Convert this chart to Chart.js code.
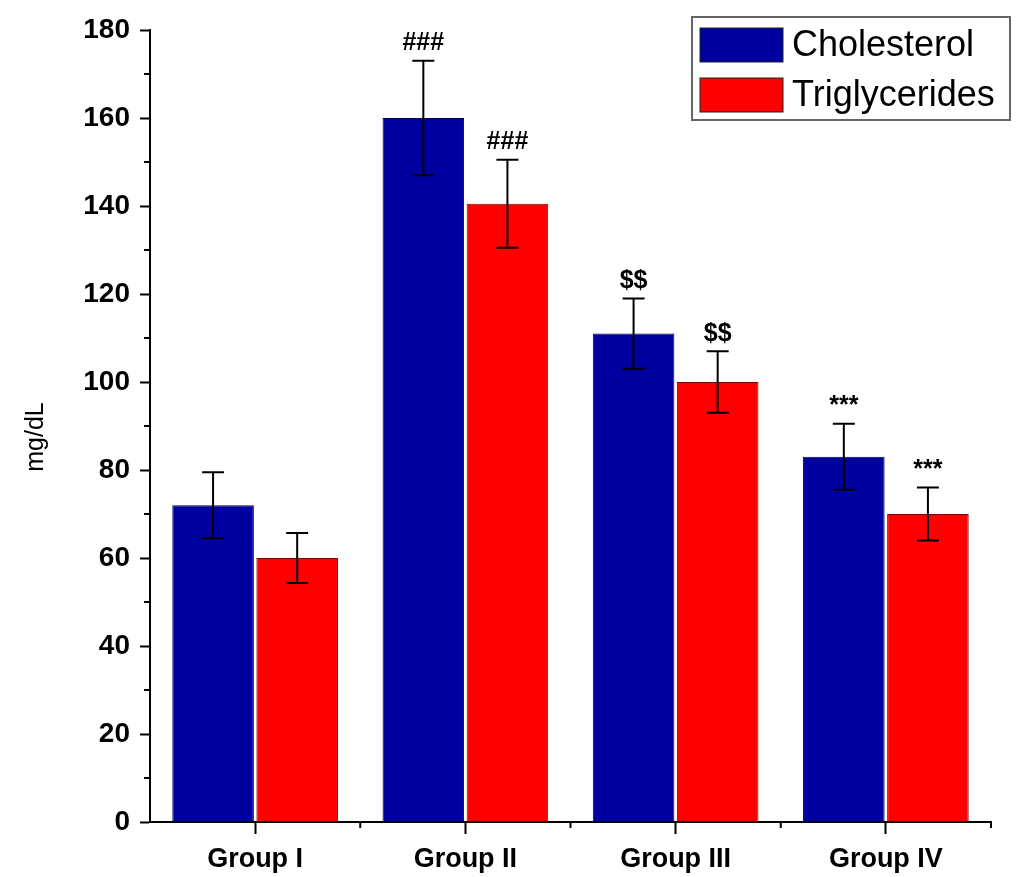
<!DOCTYPE html>
<html>
<head>
<meta charset="utf-8">
<script src="https://cdn.jsdelivr.net/npm/chart.js@4"></script>
<style>
  body { margin: 0; background: #fff; }
</style>
</head>
<body>
<canvas id="chart" width="1019" height="877"></canvas>
<script>
// Data
const groups = ["Group I", "Group II", "Group III", "Group IV"];
const cholesterol = [72, 160, 111, 83];
const cholesterolErr = [7.5, 13, 8, 7.5];
const triglycerides = [60, 140.5, 100, 70];
const triglyceridesErr = [5.7, 10, 7, 6];
const cholesterolMarks = ["", "###", "$$", "***"];
const triglycerideMarks = ["", "###", "$$", "***"];

const FONT = "'Liberation Sans', Arial, sans-serif";
const BLUE = "#0000a0";
const RED = "#ff0000";

// Error bars + significance marks
const errorBarPlugin = {
  id: "errorBars",
  afterDatasetsDraw(chart) {
    const { ctx, scales } = chart;
    const errs = [cholesterolErr, triglyceridesErr];
    const marks = [cholesterolMarks, triglycerideMarks];
    ctx.save();
    ctx.strokeStyle = "#000";
    ctx.lineWidth = 2;
    chart.data.datasets.forEach((ds, i) => {
      const meta = chart.getDatasetMeta(i);
      meta.data.forEach((bar, j) => {
        const v = ds.data[j];
        const e = errs[i][j];
        const yTop = scales.y.getPixelForValue(v + e);
        const yBot = scales.y.getPixelForValue(v - e);
        const x = bar.x;
        ctx.beginPath();
        ctx.moveTo(x, yTop);
        ctx.lineTo(x, yBot);
        ctx.moveTo(x - 11, yTop);
        ctx.lineTo(x + 11, yTop);
        ctx.moveTo(x - 11, yBot);
        ctx.lineTo(x + 11, yBot);
        ctx.stroke();
        if (marks[i][j]) {
          ctx.fillStyle = "#000";
          ctx.font = "bold 25px " + FONT;
          ctx.textAlign = "center";
          ctx.textBaseline = "bottom";
          ctx.fillText(marks[i][j], x, yTop - 5);
        }
      });
    });
    ctx.restore();
  },
};

// Minor ticks on both axes
const minorTickPlugin = {
  id: "minorTicks",
  afterDraw(chart) {
    const { ctx, scales, chartArea } = chart;
    ctx.save();
    ctx.strokeStyle = "#000";
    ctx.lineWidth = 2;
    ctx.beginPath();
    for (let v = 10; v < 180; v += 20) {
      const y = scales.y.getPixelForValue(v);
      ctx.moveTo(chartArea.left - 6, y);
      ctx.lineTo(chartArea.left, y);
    }
    const step = (chartArea.right - chartArea.left) / groups.length;
    for (let k = 1; k <= groups.length; k++) {
      const x = chartArea.left + step * k;
      ctx.moveTo(x, chartArea.bottom);
      ctx.lineTo(x, chartArea.bottom + 6);
    }
    ctx.stroke();

    // y axis title, drawn slightly below centre as in the source figure
    ctx.fillStyle = "#000";
    ctx.font = "25px " + FONT;
    ctx.textAlign = "center";
    ctx.textBaseline = "middle";
    ctx.translate(36, 437);
    ctx.rotate(-Math.PI / 2);
    ctx.fillText("mg/dL", 0, 0);
    ctx.restore();
  },
};

// Boxed legend in the top right corner
const boxLegendPlugin = {
  id: "boxLegend",
  afterDraw(chart) {
    const { ctx } = chart;
    const items = chart.data.datasets;
    ctx.save();
    ctx.strokeStyle = "#666";
    ctx.lineWidth = 2;
    ctx.strokeRect(692, 17, 318, 103);
    items.forEach((ds, i) => {
      const y = 28 + i * 50;
      ctx.fillStyle = ds.backgroundColor;
      ctx.fillRect(700, y, 83, 34);
      ctx.strokeStyle = "#222";
      ctx.lineWidth = 1;
      ctx.strokeRect(700, y, 83, 34);
      ctx.fillStyle = "#000";
      ctx.font = "36px " + FONT;
      ctx.textAlign = "left";
      ctx.textBaseline = "middle";
      ctx.fillText(ds.label, 792, y + 18);
    });
    ctx.restore();
  },
};

new Chart(document.getElementById("chart"), {
  type: "bar",
  data: {
    labels: groups,
    datasets: [
      {
        label: "Cholesterol",
        data: cholesterol,
        backgroundColor: BLUE,
        borderColor: "#000050",
        borderWidth: 1,
        categoryPercentage: 0.8,
        barPercentage: 0.97,
      },
      {
        label: "Triglycerides",
        data: triglycerides,
        backgroundColor: RED,
        borderColor: "#800000",
        borderWidth: 1,
        categoryPercentage: 0.8,
        barPercentage: 0.97,
      },
    ],
  },
  options: {
    responsive: false,
    animation: false,
    layout: { padding: { top: 30, right: 28, left: 0, bottom: 0 } },
    plugins: {
      legend: { display: false },
      tooltip: { enabled: false },
    },
    scales: {
      x: {
        grid: {
          display: true,
          drawOnChartArea: false,
          offset: false,
          tickLength: 12,
          tickWidth: 2,
          tickColor: "#000",
        },
        border: { display: true, color: "#000", width: 2 },
        ticks: {
          color: "#000",
          padding: 9,
          font: { family: FONT, size: 27, weight: "bold" },
          maxRotation: 0,
        },
        afterFit(scale) { scale.height = 55; },
      },
      y: {
        min: 0,
        max: 180,
        grid: {
          display: true,
          drawOnChartArea: false,
          tickLength: 10,
          tickWidth: 2,
          tickColor: (c) => (c.tick && c.tick.value % 20 === 0 ? "#000" : "rgba(0,0,0,0)"),
        },
        border: { display: true, color: "#000", width: 2 },
        ticks: {
          stepSize: 10,
          color: "#000",
          padding: 10,
          font: { family: FONT, size: 28, weight: "bold" },
          callback: (v) => (v % 20 === 0 ? v : ""),
        },
        afterFit(scale) { scale.width = 150; },
      },
    },
  },
  plugins: [errorBarPlugin, minorTickPlugin, boxLegendPlugin],
});
</script>
</body>
</html>
